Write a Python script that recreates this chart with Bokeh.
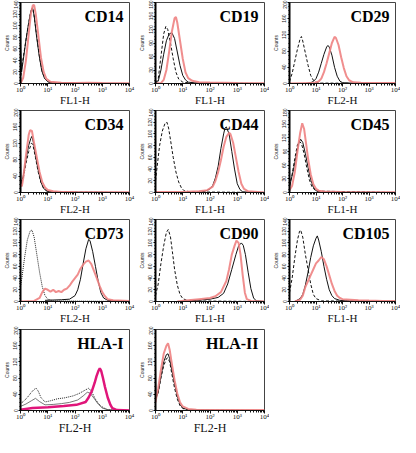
from bokeh.plotting import figure
from bokeh.layouts import column, row
from bokeh.models import Range1d, FixedTicker, SingleIntervalTicker, Label
from bokeh.embed import file_html
from bokeh.resources import INLINE

# ---------------- data: x in decades (log10 of fluorescence), y = counts ----------------
# CD14
cd14_dash_dec = [0, 0.05, 0.15, 0.25, 0.35, 0.42, 0.46, 0.52, 0.6, 0.7, 0.8, 0.9, 1.0, 1.2, 2, 4]
cd14_dash_cnt = [5, 30, 60, 90, 118, 130, 128, 110, 80, 45, 20, 8, 3, 1, 0, 0]
cd14_solid_dec = [0, 0.01, 0.04, 0.1, 0.2, 0.3, 0.38, 0.44, 0.5, 0.58, 0.68, 0.78, 0.88, 1.0, 1.2, 4]
cd14_solid_cnt = [95, 60, 20, 40, 75, 105, 125, 131, 118, 85, 50, 22, 9, 3, 1, 0]
cd14_pink_dec = [0, 0.1, 0.2, 0.3, 0.38, 0.45, 0.5, 0.56, 0.65, 0.75, 0.85, 0.95, 1.1, 1.5, 2, 2.5, 3, 4]
cd14_pink_cnt = [0, 10, 40, 85, 120, 135, 136, 120, 85, 45, 20, 8, 3, 1.5, 1, 1.5, 1, 0.5]
# CD19
cd19_dash_dec = [0, 0.1, 0.2, 0.3, 0.38, 0.45, 0.55, 0.65, 0.75, 0.85, 1.0, 1.3, 4]
cd19_dash_cnt = [2, 10, 60, 110, 127, 120, 90, 55, 25, 10, 3, 1, 0]
cd19_solid_dec = [0, 0.1, 0.2, 0.3, 0.4, 0.5, 0.6, 0.7, 0.8, 0.9, 1.0, 1.1, 1.2, 1.5, 4]
cd19_solid_cnt = [0, 5, 30, 65, 95, 110, 113, 100, 70, 40, 18, 8, 3, 1, 0]
cd19_pink_dec = [0, 0.2, 0.3, 0.4, 0.5, 0.6, 0.7, 0.75, 0.8, 0.9, 1.0, 1.1, 1.2, 1.35, 1.6, 2, 3, 4]
cd19_pink_cnt = [0, 1, 8, 30, 70, 115, 145, 148, 135, 95, 55, 25, 12, 6, 3, 2, 1, 0.5]
# CD29
cd29_dash_dec = [0, 0.1, 0.2, 0.3, 0.4, 0.45, 0.5, 0.6, 0.7, 0.8, 0.9, 1.0, 1.2, 4]
cd29_dash_cnt = [5, 25, 55, 85, 110, 116, 105, 75, 45, 20, 8, 3, 1, 0]
cd29_solid_dec = [0.6, 0.8, 0.9, 1.0, 1.1, 1.2, 1.3, 1.4, 1.45, 1.5, 1.6, 1.7, 1.8, 1.9, 2.0, 2.3, 4]
cd29_solid_cnt = [0, 2, 5, 12, 28, 50, 72, 90, 94, 90, 70, 40, 18, 6, 2, 1, 0]
cd29_pink_dec = [0, 0.9, 1.1, 1.2, 1.3, 1.4, 1.5, 1.6, 1.7, 1.75, 1.85, 1.95, 2.05, 2.15, 2.25, 2.4, 2.7, 3.5, 4]
cd29_pink_cnt = [0, 1, 5, 12, 28, 50, 75, 100, 115, 113, 95, 65, 38, 18, 8, 3, 2, 1, 1]
# CD34
cd34_dash_dec = [0, 0.1, 0.2, 0.3, 0.4, 0.45, 0.55, 0.65, 0.75, 0.85, 1.0, 1.2, 4]
cd34_dash_cnt = [25, 35, 70, 100, 120, 118, 85, 50, 25, 10, 3, 1, 0]
cd34_solid_dec = [0, 0.02, 0.1, 0.2, 0.3, 0.38, 0.42, 0.48, 0.55, 0.65, 0.75, 0.85, 0.95, 1.1, 4]
cd34_solid_cnt = [105, 20, 40, 80, 115, 132, 137, 120, 90, 55, 25, 10, 4, 1, 0]
cd34_pink_dec = [0, 0.05, 0.1, 0.2, 0.3, 0.35, 0.42, 0.5, 0.6, 0.7, 0.8, 0.9, 1.0, 1.2, 1.5, 2, 4]
cd34_pink_cnt = [20, 15, 35, 90, 140, 152, 150, 120, 85, 50, 25, 12, 6, 3, 1.5, 1, 0.5]
# CD44
cd44_dash_dec = [0, 0.05, 0.15, 0.25, 0.35, 0.42, 0.48, 0.55, 0.65, 0.75, 0.85, 0.95, 1.05, 1.3, 4]
cd44_dash_cnt = [20, 40, 80, 105, 118, 120, 110, 90, 60, 35, 18, 8, 3, 1, 0]
cd44_solid_dec = [1.5, 1.8, 2.0, 2.1, 2.2, 2.3, 2.4, 2.5, 2.55, 2.6, 2.7, 2.8, 2.9, 3.0, 3.1, 3.2, 4]
cd44_solid_cnt = [0, 2, 6, 12, 25, 45, 75, 100, 110, 112, 100, 70, 40, 15, 5, 1, 0]
cd44_pink_dec = [0, 1, 1.6, 1.9, 2.1, 2.2, 2.3, 2.4, 2.5, 2.6, 2.7, 2.75, 2.85, 2.95, 3.05, 3.15, 3.25, 3.4, 4]
cd44_pink_cnt = [1, 1, 2, 4, 10, 20, 35, 55, 78, 95, 102, 100, 85, 60, 35, 15, 6, 2, 0]
# CD45
cd45_dash_dec = [0, 0.1, 0.2, 0.3, 0.37, 0.45, 0.55, 0.65, 0.75, 0.85, 1.0, 4]
cd45_dash_cnt = [15, 40, 75, 105, 112, 108, 85, 55, 28, 12, 3, 0]
cd45_solid_dec = [0, 0.05, 0.15, 0.25, 0.35, 0.42, 0.5, 0.6, 0.7, 0.8, 0.9, 1.0, 1.2, 4]
cd45_solid_cnt = [10, 25, 50, 80, 108, 117, 110, 85, 55, 28, 12, 4, 1, 0]
cd45_pink_dec = [0, 0.1, 0.2, 0.3, 0.4, 0.48, 0.55, 0.62, 0.7, 0.8, 0.9, 1.0, 1.1, 1.3, 2, 4]
cd45_pink_cnt = [5, 15, 45, 90, 130, 152, 140, 110, 75, 40, 18, 8, 4, 2, 1, 0.5]
# CD73
cd73_dash_dec = [0, 0.05, 0.15, 0.25, 0.35, 0.42, 0.5, 0.6, 0.7, 0.8, 0.9, 1.0, 1.2, 4]
cd73_dash_cnt = [25, 40, 75, 105, 120, 122, 110, 80, 50, 25, 10, 4, 1, 0]
cd73_solid_dec = [0.9, 1.5, 1.8, 2.0, 2.1, 2.2, 2.3, 2.4, 2.5, 2.55, 2.65, 2.75, 2.85, 2.95, 3.05, 3.2, 3.5, 4]
cd73_solid_cnt = [2, 3, 4, 10, 20, 38, 65, 90, 106, 104, 85, 60, 35, 15, 6, 2, 1, 0]
cd73_pink_dec = [0, 0.5, 0.7, 0.8, 0.9, 1.0, 1.1, 1.2, 1.3, 1.4, 1.5, 1.6, 1.7, 1.8, 1.9, 2.0, 2.1, 2.2,
                 2.3, 2.4, 2.5, 2.6, 2.7, 2.8, 2.9, 3.0, 3.1, 3.2, 3.4, 4]
cd73_pink_cnt = [0, 1, 6, 16, 22, 20, 17, 20, 16, 18, 16, 20, 22, 27, 34, 40, 46, 56,
                 63, 68, 70, 64, 52, 40, 27, 16, 9, 4, 2, 1]
# CD90
cd90_dash_dec = [0, 0.1, 0.2, 0.3, 0.4, 0.47, 0.55, 0.62, 0.7, 0.8, 0.9, 1.0, 1.2, 4]
cd90_dash_cnt = [10, 30, 65, 95, 118, 123, 110, 85, 55, 28, 12, 5, 1, 0]
cd90_solid_dec = [1.0, 1.5, 2.0, 2.3, 2.5, 2.65, 2.8, 2.95, 3.05, 3.15, 3.22, 3.3, 3.4, 3.5, 3.6, 3.7, 4]
cd90_solid_cnt = [1, 2, 4, 7, 14, 30, 55, 80, 95, 100, 96, 80, 50, 22, 6, 1, 0]
cd90_pink_dec = [0.8, 1.2, 1.6, 2.0, 2.2, 2.4, 2.6, 2.7, 2.8, 2.9, 2.97, 3.05, 3.12, 3.2, 3.28, 3.35, 3.5, 4]
cd90_pink_cnt = [0, 2, 4, 6, 9, 16, 35, 55, 80, 95, 104, 100, 80, 45, 15, 4, 1, 0]
# CD105
cd105_dash_dec = [0, 0.1, 0.2, 0.3, 0.38, 0.42, 0.5, 0.6, 0.7, 0.8, 0.9, 1.0, 1.2, 4]
cd105_dash_cnt = [15, 40, 75, 105, 120, 122, 110, 80, 55, 30, 12, 5, 1, 0]
cd105_solid_dec = [0.2, 0.4, 0.5, 0.6, 0.7, 0.8, 0.9, 1.0, 1.05, 1.1, 1.2, 1.3, 1.4, 1.5, 1.6, 1.7, 1.9, 2.2, 4]
cd105_solid_cnt = [0, 5, 12, 28, 50, 75, 95, 108, 112, 105, 85, 60, 38, 20, 10, 5, 2, 1, 0]
cd105_pink_dec = [0.2, 0.4, 0.5, 0.6, 0.7, 0.8, 0.9, 1.0, 1.1, 1.2, 1.3, 1.4, 1.5, 1.6, 1.7, 1.8, 1.9, 2.0,
                  2.3, 2.6, 3, 3.5, 4]
cd105_pink_cnt = [0, 3, 10, 25, 35, 45, 55, 65, 70, 76, 72, 60, 45, 30, 18, 10, 6, 4, 3, 2, 1.5, 1, 1]
# HLA-I
hla1_dot_dec = [0, 0.1, 0.25, 0.4, 0.5, 0.57, 0.65, 0.75, 0.9, 1.1, 1.36, 1.6, 1.93, 2.15, 2.39, 2.5, 2.6,
                2.74, 2.85, 2.97, 3.1, 3.2, 3.4, 4]
hla1_dot_cnt = [17, 22, 32, 45, 52, 55, 48, 32, 21, 24, 29, 31, 36, 42, 51, 55, 48, 29, 18, 10, 5, 2, 1, 0]
hla1_solid_dec = [0, 0.2, 0.4, 0.55, 0.7, 0.9, 1.2, 1.5, 1.8, 2.1, 2.3, 2.45, 2.55, 2.7, 2.85, 3.0, 3.2, 4]
hla1_solid_cnt = [10, 16, 24, 30, 22, 14, 15, 17, 20, 26, 36, 45, 43, 30, 16, 6, 2, 0]
hla1_mag_dec = [0, 0.44, 1.01, 1.59, 2.05, 2.39, 2.5, 2.62, 2.72, 2.79, 2.86, 2.91, 2.96, 3.02, 3.1, 3.2,
                3.3, 3.37, 3.54, 4]
hla1_mag_cnt = [2, 6, 8, 11, 14, 21, 32, 48, 68, 85, 98, 104, 98, 82, 58, 32, 14, 6, 1, 0]
# HLA-II
hla2_dash_dec = [0, 0.1, 0.2, 0.3, 0.4, 0.45, 0.52, 0.6, 0.7, 0.8, 0.9, 1.0, 1.2, 4]
hla2_dash_cnt = [30, 45, 80, 110, 128, 130, 120, 90, 55, 28, 12, 5, 1, 0]
hla2_solid_dec = [0, 0.02, 0.1, 0.2, 0.3, 0.4, 0.46, 0.52, 0.6, 0.7, 0.8, 0.9, 1.0, 1.2, 4]
hla2_solid_cnt = [110, 30, 45, 85, 120, 138, 140, 128, 100, 65, 35, 15, 6, 2, 0]
hla2_pink_dec = [0, 0.05, 0.1, 0.2, 0.3, 0.4, 0.46, 0.52, 0.6, 0.7, 0.8, 0.9, 1.0, 1.2, 1.5, 2, 3, 4]
hla2_pink_cnt = [20, 40, 55, 100, 140, 160, 166, 150, 115, 75, 42, 20, 10, 4, 2, 1.5, 1, 1]

panel_names = ["CD14", "CD19", "CD29", "CD34", "CD44", "CD45", "CD73", "CD90", "CD105", "HLA-I", "HLA-II"]
panel_ymax = [140, 180, 200, 200, 140, 180, 140, 140, 140, 200, 200]
panel_ystep = [20, 30, 40, 40, 20, 30, 20, 20, 20, 40, 40]
panel_xlabel = ["FL1-H", "FL1-H", "FL2-H", "FL2-H", "FL1-H", "FL1-H", "FL2-H", "FL1-H", "FL1-H", "FL2-H", "FL2-H"]
x_tick_labels = ["10\u2070", "10\u00b9", "10\u00b2", "10\u00b3", "10\u2074"]
x_decades = [0, 1, 2, 3, 4]

PINK = "#ee8282"
MAG = "#e0157a"

panel_curves = {
    "CD14": [(cd14_dash_dec, cd14_dash_cnt, "dash"), (cd14_solid_dec, cd14_solid_cnt, "solid"), (cd14_pink_dec, cd14_pink_cnt, "pink")],
    "CD19": [(cd19_dash_dec, cd19_dash_cnt, "dash"), (cd19_solid_dec, cd19_solid_cnt, "solid"), (cd19_pink_dec, cd19_pink_cnt, "pink")],
    "CD29": [(cd29_dash_dec, cd29_dash_cnt, "dash"), (cd29_solid_dec, cd29_solid_cnt, "solid"), (cd29_pink_dec, cd29_pink_cnt, "pink")],
    "CD34": [(cd34_dash_dec, cd34_dash_cnt, "dash"), (cd34_solid_dec, cd34_solid_cnt, "solid"), (cd34_pink_dec, cd34_pink_cnt, "pink")],
    "CD44": [(cd44_dash_dec, cd44_dash_cnt, "dash"), (cd44_solid_dec, cd44_solid_cnt, "solid"), (cd44_pink_dec, cd44_pink_cnt, "pink")],
    "CD45": [(cd45_dash_dec, cd45_dash_cnt, "dash"), (cd45_solid_dec, cd45_solid_cnt, "solid"), (cd45_pink_dec, cd45_pink_cnt, "pink")],
    "CD73": [(cd73_dash_dec, cd73_dash_cnt, "dot"), (cd73_solid_dec, cd73_solid_cnt, "solid"), (cd73_pink_dec, cd73_pink_cnt, "pink")],
    "CD90": [(cd90_dash_dec, cd90_dash_cnt, "dash"), (cd90_solid_dec, cd90_solid_cnt, "solid"), (cd90_pink_dec, cd90_pink_cnt, "pink")],
    "CD105": [(cd105_dash_dec, cd105_dash_cnt, "dash"), (cd105_solid_dec, cd105_solid_cnt, "solid"), (cd105_pink_dec, cd105_pink_cnt, "pink")],
    "HLA-I": [(hla1_solid_dec, hla1_solid_cnt, "thin"), (hla1_dot_dec, hla1_dot_cnt, "dot"), (hla1_mag_dec, hla1_mag_cnt, "mag")],
    "HLA-II": [(hla2_dash_dec, hla2_dash_cnt, "dash"), (hla2_solid_dec, hla2_solid_cnt, "solid"), (hla2_pink_dec, hla2_pink_cnt, "pink")],
}

SERIF = "Liberation Serif"

# layout geometry: (width, left, right) per column, (height, top, bottom) per row
col_geo = [(135, 16, 6), (134, 16, 5), (131, 16, 5)]
row_geo = [(108, 2, 20), (109, 2, 20), (109, 2, 20), (111, 3, 21)]


def make_panel(idx, col, rw):
    name = panel_names[idx]
    ymax = panel_ymax[idx]
    w, bl, br = col_geo[col]
    h, bt, bb = row_geo[rw]
    big = rw == 3
    p = figure(width=w, height=h, x_axis_type="log",
               x_range=Range1d(1, 10 ** 4), y_range=Range1d(0, ymax),
               output_backend="svg", toolbar_location=None,
               min_border_left=bl, min_border_right=br,
               min_border_top=bt, min_border_bottom=bb)
    p.xgrid.visible = False
    p.ygrid.visible = False
    p.outline_line_color = "#444444"
    p.outline_line_width = 1
    p.background_fill_color = "white"
    p.border_fill_color = "white"

    major = [10 ** d for d in x_decades]
    minor = [k * 10 ** d for d in x_decades[:-1] for k in range(2, 10)]
    xa = p.xaxis[0]
    xa.ticker = FixedTicker(ticks=major, minor_ticks=minor)
    xa.major_label_overrides = {m: lab for m, lab in zip(major, x_tick_labels)}
    xa.axis_line_color = "#111111"
    xa.major_tick_out = 3
    xa.major_tick_in = 0
    xa.minor_tick_out = 2
    xa.minor_tick_in = 0
    xa.major_tick_line_color = "#111111"
    xa.minor_tick_line_color = "#111111"
    xa.major_label_text_font = SERIF
    xa.major_label_text_font_size = "7px"
    xa.major_label_text_color = "#111111"
    xa.major_label_standoff = -1
    xa.axis_label = panel_xlabel[idx]
    xa.axis_label_text_font = SERIF
    xa.axis_label_text_font_style = "normal"
    xa.axis_label_text_font_size = "12px" if big else "11px"
    xa.axis_label_text_color = "#111111"
    xa.axis_label_standoff = -3

    ya = p.yaxis[0]
    ya.ticker = SingleIntervalTicker(interval=panel_ystep[idx], num_minor_ticks=4)
    ya.axis_line_width = 2
    ya.axis_line_color = "#000000"
    ya.major_tick_out = 2
    ya.major_tick_in = 0
    ya.minor_tick_out = 1
    ya.minor_tick_in = 0
    ya.major_label_orientation = "vertical"
    ya.major_label_text_font_size = "5px"
    ya.major_label_text_color = "#222222"
    ya.major_label_standoff = 1
    ya.axis_label = "Counts"
    ya.axis_label_text_font_size = "5px"
    ya.axis_label_text_font_style = "normal"
    ya.axis_label_text_color = "#222222"
    ya.axis_label_standoff = 1

    for dec, cnt, style in panel_curves[name]:
        xs = [10 ** d for d in dec]
        if style == "dash":
            p.line(xs, cnt, line_color="#111111", line_width=1, line_dash="3 2")
        elif style == "dot":
            p.line(xs, cnt, line_color="#222222", line_width=1, line_dash="1 1")
        elif style == "solid":
            p.line(xs, cnt, line_color="#111111", line_width=1)
        elif style == "thin":
            p.line(xs, cnt, line_color="#555555", line_width=0.8)
        elif style == "pink":
            p.line(xs, cnt, line_color=PINK, line_width=2, line_alpha=0.9)
        elif style == "mag":
            p.line(xs, cnt, line_color=MAG, line_width=2.5)

    p.add_layout(Label(x=10 ** 4, y=ymax, text=name, text_align="right", text_baseline="top",
                       x_offset=-6, y_offset=-5, text_font=SERIF, text_font_style="bold",
                       text_font_size="16px", text_color="#000000"))
    return p


idx = 0
rows_out = []
for rw, ncols in enumerate([3, 3, 3, 2]):
    figs = []
    for c in range(ncols):
        figs.append(make_panel(idx, c, rw))
        idx += 1
    rows_out.append(row(*figs))

layout = column(*rows_out)

with open("out.html", "w") as f:
    f.write(file_html(layout, INLINE))
